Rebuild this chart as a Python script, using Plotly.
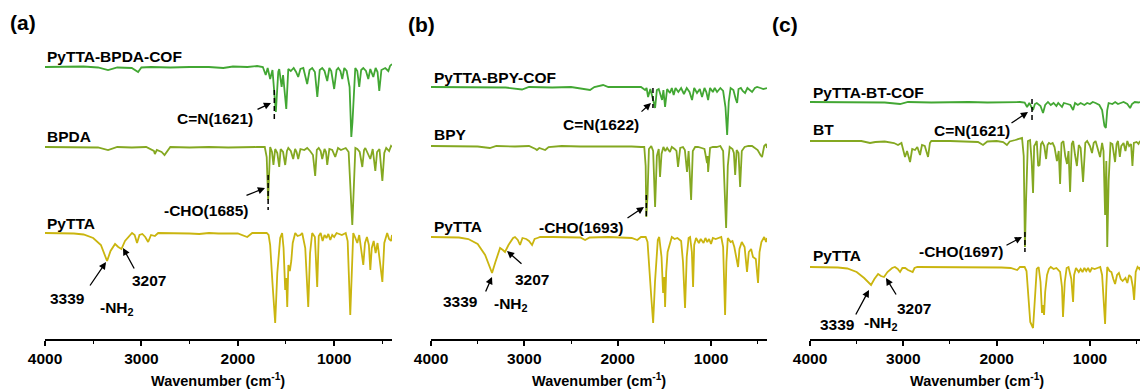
import plotly.graph_objects as go

# ---------------- data ----------------
# T = relative transmittance (baseline = 100, downward dips = absorption bands)
A_COF = [(4000,100),(3800,100),(3600,100.5),(3450,99.5),(3346,97),(3250,99.5),(3100,99),(3034,95),(3000,99.5),
         (2900,100),(2700,99.5),(2500,100),(2300,100),(2150,99),(2050,100.5),(1900,100),(1800,101),(1740,100),
         (1710,92),(1690,99),(1664,88),(1640,97),(1621,75),(1605,55),(1580,95),(1570,98),(1545,80),(1530,92),
         (1497,58),(1476,98),(1450,96),(1420,99),(1395,95),(1373,90),(1350,98),(1320,99),(1280,83),(1255,97),
         (1228,99),(1200,95),(1175,70),(1150,97),(1124,99),(1100,96),(1072,86),(1050,99),(1030,96),(1000,78),
         (975,97),(957,99),(935,96),(916,88),(895,99),(870,96),(840,80),(822,30),(810,45),(781,99),(760,96),
         (740,80),(720,97),(698,99),(670,96),(646,88),(625,98),(594,90),(570,99),(550,95),(532,76),(510,97),
         (470,99),(438,96),(420,101),(400,103)]
A_LINK = [(4000,100),(3700,100),(3450,99.5),(3346,97),(3250,100),(3100,99.5),(2950,100),(2870,96),(2860,93),
          (2840,97),(2790,95),(2760,92),(2733,96),(2700,100),(2500,99.5),(2300,100),(2100,99.5),(1950,100),
          (1800,100),(1720,100),(1700,90),(1685,47),(1672,85),(1664,100),(1645,95),(1630,82),(1612,98),
          (1590,94),(1570,80),(1555,98),(1530,95),(1508,82),(1490,96),(1476,99),(1450,96),(1425,88),(1405,98),
          (1390,95),(1373,88),(1350,98),(1310,97),(1280,99),(1250,96),(1220,92),(1197,71),(1180,97),(1160,99),
          (1140,96),(1124,88),(1100,98),(1085,95),(1072,82),(1050,98),(1020,97),(989,90),(960,99),(930,97),
          (880,99),(850,95),(830,60),(812,22),(800,50),(780,99),(760,98),(735,95),(708,80),(690,97),(677,99),
          (660,95),(625,88),(600,98),(573,76),(555,95),(530,98),(500,66),(480,94),(460,99),(430,96),(410,101),
          (400,100)]
A_AMINE = [(4000,100),(3800,100),(3700,99.5),(3600,98.5),(3500,95),(3420,88),(3380,78),(3356,72),(3320,82),
           (3273,89),(3240,86),(3207,84),(3170,92),(3120,98),(3097,100),(3070,98),(3045,90),(3020,98),(2990,99),
           (2960,96),(2930,91),(2900,98),(2860,97),(2826,100),(2700,100),(2500,99.5),(2400,99),(2300,100),
           (2200,99.5),(2000,99.5),(1902,96),(1850,100),(1750,100),(1700,100),(1680,98),(1664,88),(1640,50),
           (1612,10),(1590,60),(1560,95),(1540,100),(1525,85),(1508,43),(1497,55),(1487,26),(1475,68),(1460,62),
           (1445,72),(1430,90),(1404,100),(1380,97),(1350,98),(1332,100),(1300,85),(1269,26),(1250,80),
           (1228,100),(1200,96),(1176,46),(1160,97),(1140,100),(1120,92),(1100,98),(1080,95),(1060,99),
           (1040,93),(1020,98),(1000,96),(975,100),(950,99),(920,98),(880,100),(860,92),(833,18),(815,80),
           (802,100),(780,95),(760,90),(740,98),(720,85),(698,68),(680,90),(660,96),(640,88),(625,63),(610,85),
           (590,92),(570,80),(550,90),(530,75),(500,51),(480,90),(450,100),(430,94),(410,92),(400,98)]

B_COF = [(4000,100),(3800,100),(3600,99.5),(3400,100),(3200,99.5),(3025,97.5),(2950,100),(2700,99.5),
         (2500,100),(2296,97),(2250,100),(2156,102),(2100,100),(1900,100),(1750,100),(1706,97),(1690,99),
         (1674,90),(1650,98),(1622,88),(1599,79),(1580,97),(1560,98),(1524,87),(1510,97),(1492,80),(1470,98),
         (1440,94),(1420,99),(1400,92),(1380,99),(1350,95),(1320,99),(1290,93),(1260,99),(1230,95),(1203,87),
         (1180,99),(1150,94),(1120,98),(1096,90),(1070,99),(1050,95),(1031,87),(1010,99),(980,95),(960,99),
         (935,95),(900,99),(870,96),(845,80),(827,52),(810,85),(790,99),(760,97),(735,88),(720,84),(705,98),
         (680,99),(660,96),(635,94),(610,99),(580,97),(560,95),(530,99),(506,100),(470,99),(440,98),(400,99)]
B_LINK = [(4000,100),(3700,100),(3500,99.5),(3370,98),(3300,100),(3100,99.5),(2950,100),(2880,97),(2865,96),
          (2840,98),(2800,97),(2777,96),(2740,99),(2600,100),(2400,99.5),(2200,99.5),(2000,100),(1850,99.5),
          (1750,99),(1715,99),(1700,80),(1693,29),(1680,50),(1665,97),(1640,100),(1620,95),(1599,39),(1580,90),
          (1560,97),(1546,69),(1530,92),(1510,99),(1490,95),(1470,98),(1440,94),(1420,99),(1390,97),(1370,95),
          (1353,79),(1330,98),(1300,99),(1280,96),(1257,74),(1240,95),(1213,46),(1195,95),(1170,99),(1140,99),
          (1100,98),(1070,97),(1042,83),(1036,90),(1031,74),(1010,98),(980,99),(940,99),(900,100),(870,95),
          (838,18),(820,80),(800,99),(770,97),(755,93),(741,71),(725,96),(705,93),(688,59),(670,95),(640,99),
          (600,100),(560,100),(500,96),(470,91),(453,89),(430,100),(410,102),(400,98)]
B_AMINE = [(4000,100),(3800,100),(3700,99.5),(3600,98),(3500,93),(3420,82),(3370,70),(3346,64),(3310,75),
           (3260,89),(3230,87),(3207,85),(3170,92),(3120,99),(3100,100),(3070,97),(3046,92),(3020,99),(2980,98),
           (2950,96),(2917,92),(2890,98),(2860,99),(2830,100),(2700,100),(2500,100),(2400,99.5),(2349,97),
           (2300,99.5),(2100,100),(1950,99.5),(1850,99),(1790,97),(1750,100),(1700,100),(1680,95),(1640,40),
           (1620,14),(1600,55),(1570,97),(1555,100),(1530,80),(1513,44),(1500,60),(1492,30),(1480,65),(1465,85),
           (1440,95),(1420,100),(1390,98),(1360,99),(1320,96),(1300,75),(1278,29),(1260,80),(1240,99),(1224,100),
           (1205,85),(1192,50),(1180,92),(1160,99),(1130,94),(1110,98),(1080,94),(1060,99),(1040,95),(1020,98),
           (1000,93),(980,99),(950,98),(920,99),(890,100),(870,90),(849,22),(835,75),(820,99),(790,95),(770,96),
           (750,90),(730,80),(710,70),(695,88),(670,95),(640,90),(614,65),(595,85),(570,88),(550,80),(520,78),
           (496,54),(480,85),(460,95),(430,100),(410,95),(400,99)]

C_COF = [(4000,100),(3800,100),(3600,99.5),(3400,100),(3200,99.5),(3035,98),(2950,100),(2700,99.5),(2500,100),
         (2300,100),(2100,99.5),(1900,100),(1750,100),(1700,99.5),(1674,95),(1650,99),(1621,94),(1610,92),
         (1590,98),(1570,99),(1530,96),(1503,89),(1480,97),(1450,100),(1420,97),(1390,99),(1360,96),(1340,99),
         (1300,95),(1280,99),(1240,98),(1210,97),(1181,92),(1160,99),(1130,97),(1100,99),(1060,97),(1030,99),
         (1000,98),(970,100),(940,99),(900,97),(870,92),(845,76),(830,74),(815,92),(800,99),(760,98),(730,100),
         (700,98),(670,99),(640,100),(600,98),(570,94),(550,98),(520,100),(480,99.5),(463,100)]
C_LINK = [(4000,100),(3800,100),(3600,99.5),(3450,100),(3357,98),(3300,99),(3200,99.5),(3100,98),(3057,96),
          (3020,98),(2982,84),(2960,90),(2928,79),(2905,92),(2875,91),(2850,94),(2821,86),(2800,96),(2770,95),
          (2735,84),(2715,98),(2700,100),(2500,100),(2300,99.5),(2200,99),(2146,96),(2100,99.5),(2000,100),
          (1930,99),(1890,96),(1860,99.5),(1800,101),(1760,102),(1728,103),(1710,85),(1697,-6),(1685,40),
          (1665,100),(1642,101),(1625,80),(1610,48),(1598,95),(1585,97),(1570,100),(1555,75),(1540,76),
          (1525,97),(1510,99),(1490,95),(1470,82),(1455,96),(1440,98),(1420,97),(1400,98),(1380,94),(1354,80),
          (1335,90),(1320,57),(1305,98),(1285,100),(1265,85),(1246,77),(1230,90),(1213,49),(1195,97),(1180,100),
          (1160,86),(1140,75),(1120,96),(1100,93),(1074,59),(1050,98),(1030,100),(1000,95),(978,88),(960,98),
          (940,100),(915,92),(892,84),(870,98),(855,90),(838,26),(825,80),(815,-6),(800,60),(780,98),(760,97),
          (731,79),(715,97),(700,100),(680,84),(665,95),(640,98),(620,90),(600,100),(580,95),(560,97),(545,75),
          (530,98),(500,99),(480,97),(463,100)]
C_AMINE = [(4000,100),(3800,100),(3700,99.5),(3600,98.5),(3500,95),(3420,89),(3370,84),(3346,82),(3310,88),
           (3270,93),(3240,91),(3207,90),(3170,95),(3120,99),(3090,100),(3060,98),(3035,95),(3010,99),(2980,99),
           (2950,97),(2900,95),(2880,99),(2850,100),(2700,100),(2500,100),(2300,99.5),(2100,100),(1950,99.5),
           (1850,99),(1780,97),(1750,100),(1700,100),(1680,96),(1640,45),(1610,39),(1590,70),(1570,98),(1550,100),
           (1530,85),(1514,54),(1505,62),(1492,52),(1480,75),(1460,92),(1440,98),(1420,100),(1390,98),(1360,99),
           (1320,95),(1300,80),(1289,50),(1270,85),(1250,99),(1230,100),(1200,88),(1181,65),(1170,92),(1150,99),
           (1120,95),(1100,98),(1080,95),(1060,99),(1040,96),(1020,99),(1000,95),(980,99),(950,98),(920,99),
           (890,100),(870,92),(838,43),(825,80),(815,100),(790,96),(770,95),(750,88),(731,83),(710,92),(690,94),
           (670,88),(650,86),(620,89),(600,84),(580,92),(560,90),(540,80),(527,67),(510,95),(490,100),(470,98),
           (463,100)]

NAMES_A = ["PyTTA-BPDA-COF", "BPDA", "PyTTA"]
NAMES_B = ["PyTTA-BPY-COF", "BPY", "PyTTA"]
NAMES_C = ["PyTTA-BT-COF", "BT", "PyTTA"]
CN_PEAK = [1621, 1622, 1621]        # C=N stretch of each COF
CHO_PEAK = [1685, 1693, 1697]       # -CHO stretch of each aldehyde
NH2_PEAKS = [3339, 3207]            # -NH2 stretches of PyTTA
TICK_VALS = [4000, 3000, 2000, 1000]
PANEL_TAGS = ["(a)", "(b)", "(c)"]

# ---------------- styling / layout ----------------
W, H = 1140, 389
AXY = 339                       # pixel row of the x-axis line
COLORS = ["#42a733", "#84a821", "#cab50f"]
FONT = "Liberation Sans, Arial, sans-serif"

def px(x):
    return x / W

def py(y):
    return (AXY - y) / AXY

panels = [
    dict(key="", dom=(45, 392), rng=(4000, 400), spectra=[A_COF, A_LINK, A_AMINE], names=NAMES_A,
         base=(67, 147, 233), labx=45, laby=(55, 135, 222), tag=(23, 22), titlex=218,
         cn=dict(y=(90, 122), tail=(256, 110), head=(271, 103), text=(215, 118)),
         cho=dict(y=(175, 210), tail=(245, 196), head=(265, 188), text=(206, 209)),
         n1=dict(text=(67, 297), tail=(89, 287), head=(106, 262)),
         n2=dict(text=(149, 279), tail=(135, 270), head=(123, 248)),
         nh=(117, 308)),
    dict(key="2", dom=(431, 767), rng=(4000, 400), spectra=[B_COF, B_LINK, B_AMINE], names=NAMES_B,
         base=(87, 146, 237), labx=432, laby=(76, 133, 225), tag=(421, 24), titlex=599,
         cn=dict(y=(88, 108), tail=(640, 113), head=(651, 103), text=(601, 123)),
         cho=dict(y=(195, 217), tail=(626, 219), head=(644, 207), text=(581, 227)),
         n1=dict(text=(460, 300), tail=(485, 293), head=(492, 277)),
         n2=dict(text=(532, 278), tail=(523, 265), head=(507, 251)),
         nh=(511, 304)),
    dict(key="3", dom=(810, 1140), rng=(4000, 464), spectra=[C_COF, C_LINK, C_AMINE], names=NAMES_C,
         base=(102, 141, 267), labx=811, laby=(91, 128, 254), tag=(785, 24), titlex=977,
         cn=dict(y=(99, 120), tail=(1010, 124), head=(1028, 112), text=(972, 129)),
         cho=dict(y=(232, 252), tail=(1005, 246), head=(1022, 237), text=(961, 250)),
         n1=dict(text=(837, 323), tail=(855, 316), head=(869, 290)),
         n2=dict(text=(914, 307), tail=(897, 296), head=(886, 278)),
         nh=(881, 323)),
]

fig = go.Figure()
annotations = []
shapes = []
TXT = dict(family=FONT, size=15.5, color="black", weight="bold")

for i, p in enumerate(panels):
    xa, ya = "x" + p["key"], "y" + p["key"]
    for j, spec in enumerate(p["spectra"]):
        wn = [s[0] for s in spec]
        t = [s[1] for s in spec]
        y = [(AXY - p["base"][j]) + (v - 100) for v in t]
        fig.add_trace(go.Scatter(x=wn, y=y, mode="lines", xaxis=xa, yaxis=ya, name=p["names"][j],
                                 line=dict(color=COLORS[j], width=1.8), showlegend=False, hoverinfo="skip"))
        annotations.append(dict(text=p["names"][j], x=px(p["labx"]), y=py(p["laby"][j] + 1), xref="paper",
                                yref="paper", xanchor="left", yanchor="middle", showarrow=False, font=TXT))
    # peak markers (vertical dashed bars)
    for wnv, m in ((CN_PEAK[i], p["cn"]), (CHO_PEAK[i], p["cho"])):
        shapes.append(dict(type="line", xref=xa, yref="paper", x0=wnv, x1=wnv, y0=py(m["y"][0]), y1=py(m["y"][1]),
                           line=dict(color="black", width=1.5, dash="5px,3px")))
    items = [(f"C=N({CN_PEAK[i]})", p["cn"]), (f"-CHO({CHO_PEAK[i]})", p["cho"]),
             (str(NH2_PEAKS[0]), p["n1"]), (str(NH2_PEAKS[1]), p["n2"])]
    for text, m in items:
        annotations.append(dict(text=text, x=px(m["text"][0]), y=py(m["text"][1] + 1), xref="paper", yref="paper",
                                xanchor="center", yanchor="middle", showarrow=False, font=TXT))
        annotations.append(dict(text="", x=px(m["head"][0]), y=py(m["head"][1]), xref="paper", yref="paper",
                                ax=m["tail"][0] - m["head"][0], ay=m["tail"][1] - m["head"][1],
                                showarrow=True, arrowhead=2, arrowsize=1.1, arrowwidth=1.3,
                                arrowcolor="black", standoff=0, startstandoff=0))
    annotations.append(dict(text="-NH<sub>2</sub>", x=px(p["nh"][0]), y=py(p["nh"][1]), xref="paper",
                            yref="paper", xanchor="center", yanchor="middle", showarrow=False, font=TXT))
    annotations.append(dict(text=PANEL_TAGS[i], x=px(p["tag"][0]), y=py(p["tag"][1]), xref="paper", yref="paper",
                            xanchor="center", yanchor="middle", showarrow=False,
                            font=dict(family=FONT, size=21, color="black", weight="bold")))
    annotations.append(dict(text="Wavenumber (cm<sup>-1</sup>)", x=px(p["titlex"]), y=py(380), xref="paper",
                            yref="paper", xanchor="center", yanchor="middle", showarrow=False,
                            font=dict(family=FONT, size=14.5, color="black", weight="bold")))

    axis = dict(domain=[px(p["dom"][0]), px(p["dom"][1])], range=list(p["rng"]), anchor=ya, automargin=False,
                showline=True, linecolor="black", linewidth=1.5, showgrid=False, zeroline=False,
                ticks="outside", ticklen=5, tickwidth=1.5, tickcolor="black", tickvals=TICK_VALS,
                tickfont=dict(family=FONT, size=15.5, color="black", weight="bold"),
                minor=dict(dtick=500, tick0=0, ticks="outside", ticklen=3, tickwidth=1.2, tickcolor="black",
                           showgrid=False))
    yaxis = dict(domain=[0, 1], range=[0, AXY], anchor=xa, visible=False, fixedrange=True, automargin=False)
    fig.update_layout(**{"xaxis" + p["key"]: axis, "yaxis" + p["key"]: yaxis})

fig.update_layout(width=W, height=H, margin=dict(l=0, r=0, t=0, b=H - AXY, autoexpand=False),
                  paper_bgcolor="white", plot_bgcolor="white", annotations=annotations, shapes=shapes,
                  showlegend=False)
fig.write_html("out.html", config={"displayModeBar": False})
